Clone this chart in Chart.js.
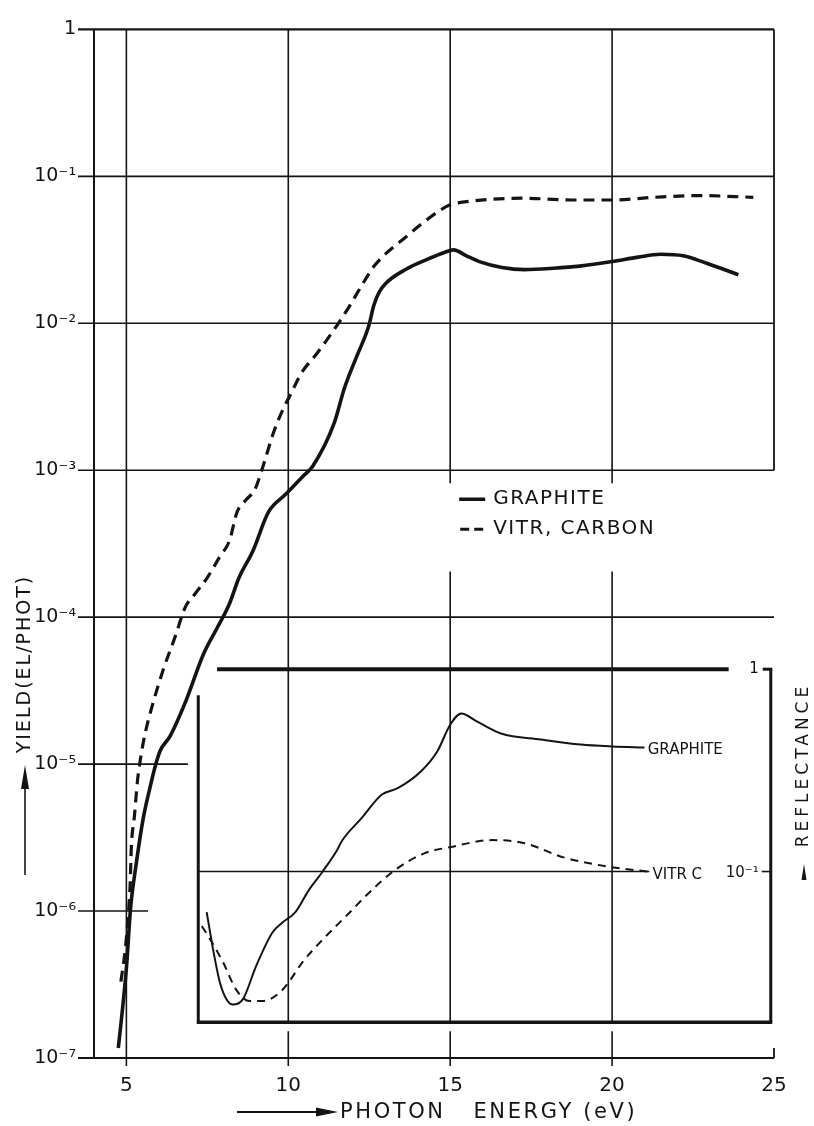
<!DOCTYPE html>
<html>
<head>
<meta charset="utf-8">
<script src="https://cdn.jsdelivr.net/npm/chart.js@4.4.0/dist/chart.umd.min.js"></script>
<style>
  html, body { margin: 0; padding: 0; background: #fff; }
</style>
</head>
<body>
<canvas id="yieldChart" width="814" height="1126"></canvas>
<script>
// Photoelectric yield (electrons / photon) vs photon energy (eV)
const graphiteEnergy = [4.75, 4.85, 5.0, 5.13, 5.31, 5.52, 5.74, 5.92, 6.04, 6.35, 6.81, 7.38, 7.81, 8.18, 8.48, 8.9, 9.39, 9.9, 10.5, 10.76,
  11.42, 11.73, 12.12, 12.48, 12.64, 12.8, 13.0, 13.65, 14.27, 14.8, 15.1, 15.5, 15.9, 16.6, 17.3, 18.2, 19.0, 20.0, 20.8, 21.5, 22.2, 22.9, 23.9];
const graphiteYield = [1.17e-7, 1.86e-7, 4.07e-7, 1.05e-6, 2.14e-6, 4.27e-6, 7.08e-6, 1.02e-5, 1.23e-5, 1.55e-5, 2.6e-5, 5.6e-5, 8.5e-5, 1.23e-4, 1.86e-4, 2.8e-4, 5.2e-4, 6.8e-4, 9.3e-4, 1.07e-3,
  2.1e-3, 3.6e-3, 6.0e-3, 9.5e-3, 1.32e-2, 1.62e-2, 1.86e-2, 2.34e-2, 2.71e-2, 3.02e-2, 3.16e-2, 2.88e-2, 2.63e-2, 2.4e-2, 2.32e-2, 2.37e-2, 2.45e-2, 2.63e-2, 2.82e-2, 2.95e-2, 2.88e-2, 2.57e-2, 2.14e-2];

const vitrEnergy = [4.83, 4.97, 5.06, 5.12, 5.15, 5.25, 5.34, 5.43, 5.58, 5.8, 6.14, 6.51, 6.82, 7.13, 7.5, 7.88, 8.18, 8.42, 8.7, 8.97,
  9.24, 9.55, 9.85, 10.06, 10.4, 10.9, 11.6, 11.9, 12.25, 12.65, 13.65, 14.7, 15.0, 15.7, 17.23, 18.76, 19.98, 21.3, 22.65, 24.36];
const vitrYield = [3.31e-7, 5.6e-7, 9.5e-7, 1.58e-6, 2.63e-6, 4.47e-6, 7.6e-6, 1.07e-5, 1.62e-5, 2.5e-5, 4.4e-5, 7.4e-5, 1.17e-4, 1.45e-4, 1.86e-4, 2.57e-4, 3.3e-4, 5.2e-4, 6.3e-4, 7.4e-4,
  1.1e-3, 1.82e-3, 2.63e-3, 3.24e-3, 4.57e-3, 6.3e-3, 1.04e-2, 1.32e-2, 1.78e-2, 2.45e-2, 3.9e-2, 5.9e-2, 6.4e-2, 6.8e-2, 7.1e-2, 6.9e-2, 6.9e-2, 7.2e-2, 7.4e-2, 7.2e-2];

// inset: reflectance
const graphiteReflEnergy = [7.48, 7.68, 7.89, 8.09, 8.29, 8.6, 9.0, 9.51, 9.82, 10.22, 10.63, 11.04, 11.5, 11.66, 12.27, 12.89, 13.38,
  14.1, 14.6, 15.0, 15.34, 15.84, 16.57, 17.8, 19.03, 20.0, 21.0];
const graphiteRefl = [0.063, 0.041, 0.0282, 0.0234, 0.022, 0.0234, 0.0339, 0.050, 0.056, 0.063, 0.0807, 0.0989, 0.127, 0.142, 0.184, 0.24, 0.258,
  0.313, 0.392, 0.531, 0.604, 0.55, 0.481, 0.449, 0.424, 0.415, 0.41];

const vitrReflEnergy = [7.33, 7.53, 7.99, 8.39, 8.8, 9.21, 9.72, 10.0, 10.43, 11.04, 11.85, 12.46, 13.27, 14.2, 15.0, 16.3, 17.3, 18.5, 20.0, 21.1];
const vitrRefl = [0.0537, 0.0479, 0.0355, 0.0261, 0.0229, 0.0229, 0.0251, 0.0282, 0.0355, 0.0457, 0.0617, 0.0776, 0.101, 0.123, 0.132, 0.143, 0.138, 0.1175, 0.105, 0.1];

const energyTicks = [5, 10, 15, 20, 25];
const yieldTicks = [1e-7, 1e-6, 1e-5, 1e-4, 1e-3, 1e-2, 1e-1, 1];
const yieldTickLabels = ['10\u207B\u2077', '10\u207B\u2076', '10\u207B\u2075', '10\u207B\u2074', '10\u207B\u00B3', '10\u207B\u00B2', '10\u207B\u00B9', '1'];
const reflTicks = [1, 0.1];
const reflTickLabels = ['1', '10\u207B\u00B9'];

const INK = '#141414';
const FONT = '"DejaVu Sans", sans-serif';

// inset frame (in data units)
const insetLeft = 7.22, insetRight = 24.9, insetFloor = 0.018;
const insetTopFrom = 7.8, insetTopTo = 23.6;

function toPoints(xs, ys) {
    return xs.map((x, i) => ({ x: x, y: ys[i] }));
}

function line(ctx, x1, y1, x2, y2, w) {
    ctx.beginPath();
    ctx.lineWidth = w;
    ctx.moveTo(x1, y1);
    ctx.lineTo(x2, y2);
    ctx.stroke();
}

const figurePlugin = {
    id: 'figure',
    beforeDraw(chart) {
        const ctx = chart.ctx;
        ctx.save();
        ctx.fillStyle = '#fff';
        ctx.fillRect(0, 0, chart.width, chart.height);
        ctx.restore();
    },
    beforeDatasetsDraw(chart) {
        const { ctx, scales: { x, y, yR } } = chart;
        const left = x.getPixelForValue(4), right = x.getPixelForValue(25);
        const top = y.getPixelForValue(1), bottom = y.getPixelForValue(1e-7);
        const inBottom = yR.getPixelForValue(insetFloor);
        ctx.save();
        ctx.strokeStyle = INK;
        ctx.lineCap = 'butt';

        // horizontal decade lines (some are only stubs in the original)
        yieldTicks.forEach(v => {
            let end = right;
            if (v === 1e-6) end = x.getPixelForValue(5.67);
            if (v === 1e-5) end = x.getPixelForValue(6.9);
            const w = (v === 1 || v === 1e-7) ? 2.2 : 1.6;
            line(ctx, left - 16, y.getPixelForValue(v), end, y.getPixelForValue(v), w);
        });

        // frame left / right
        line(ctx, left, top, left, bottom, 2);
        line(ctx, right, top, right, y.getPixelForValue(1e-3), 1.8);
        line(ctx, right, bottom - 10, right, bottom, 1.8);

        // vertical lines at 5, 10, 15, 20
        const gapTop = y.getPixelForValue(1e-3) + 13;
        const gapBottom = y.getPixelForValue(Math.pow(10, -3.69));
        line(ctx, x.getPixelForValue(5), top, x.getPixelForValue(5), bottom + 8, 1.6);
        [10, 15, 20].forEach(e => {
            const px = x.getPixelForValue(e);
            if (e === 10) {
                line(ctx, px, top, px, inBottom, 1.6);
            } else {
                line(ctx, px, top, px, gapTop, 1.6);
                line(ctx, px, gapBottom, px, inBottom, 1.6);
            }
            line(ctx, px, inBottom + 9, px, bottom + 8, 1.6);
        });

        // inset frame
        const iL = x.getPixelForValue(insetLeft), iR = x.getPixelForValue(insetRight);
        const r1 = yR.getPixelForValue(1), r01 = yR.getPixelForValue(0.1);
        line(ctx, x.getPixelForValue(insetTopFrom), r1, x.getPixelForValue(insetTopTo), r1, 4);
        line(ctx, iL, r1 + 26, iL, inBottom, 3);
        line(ctx, iL - 1.5, inBottom, iR + 1.5, inBottom, 3.5);
        line(ctx, iR, r1, iR, inBottom, 3);
        line(ctx, iR - 8, r1, iR + 1.5, r1, 3);
        line(ctx, iL, r01, x.getPixelForValue(21.15), r01, 1.6);
        line(ctx, iR - 9, r01, iR, r01, 1.6);
        ctx.restore();
    },
    afterDatasetsDraw(chart) {
        const { ctx, scales: { x, y, yR } } = chart;
        ctx.save();
        ctx.fillStyle = INK;
        ctx.strokeStyle = INK;
        ctx.textBaseline = 'middle';

        // legend
        const lx = x.getPixelForValue(15) + 9;
        const ly = y.getPixelForValue(1e-3) + 29;
        line(ctx, lx, ly, lx + 26, ly, 3.5);
        ctx.setLineDash([9, 5]);
        line(ctx, lx + 1, ly + 30, lx + 27, ly + 30, 3.2);
        ctx.setLineDash([]);
        ctx.font = '20px ' + FONT;
        ctx.letterSpacing = '1.5px';
        ctx.textAlign = 'left';
        ctx.fillText('GRAPHITE', lx + 34, ly);
        ctx.fillText('VITR, CARBON', lx + 34, ly + 30);

        // inset labels
        const iR = x.getPixelForValue(insetRight);
        ctx.font = '15px ' + FONT;
        ctx.letterSpacing = '0px';
        ctx.fillText('GRAPHITE', x.getPixelForValue(21.1), yR.getPixelForValue(0.405) + 2);
        ctx.fillText('VITR C', x.getPixelForValue(21.25), yR.getPixelForValue(0.1) + 4);
        ctx.textAlign = 'right';
        reflTicks.forEach((v, i) => {
            ctx.fillText(reflTickLabels[i], iR - 12, yR.getPixelForValue(v) + (i === 0 ? 0 : 2));
        });

        // x title with arrow
        const ty = 1112;
        line(ctx, 237, ty, 322, ty, 2);
        ctx.beginPath();
        ctx.moveTo(338, ty);
        ctx.lineTo(316, ty - 4.5);
        ctx.lineTo(316, ty + 4.5);
        ctx.closePath();
        ctx.fill();
        ctx.textAlign = 'left';
        ctx.font = '21px ' + FONT;
        ctx.letterSpacing = '2.6px';
        ctx.fillText('PHOTON   ENERGY (eV)', 340, ty + 1);

        // y title with arrow
        ctx.save();
        ctx.translate(25, 664);
        ctx.rotate(-Math.PI / 2);
        ctx.textAlign = 'center';
        ctx.font = '19px ' + FONT;
        ctx.letterSpacing = '2px';
        ctx.fillText('YIELD(EL/PHOT)', 0, 0);
        ctx.restore();
        line(ctx, 25, 875, 25, 785, 1.6);
        ctx.beginPath();
        ctx.moveTo(25, 765);
        ctx.lineTo(21, 789);
        ctx.lineTo(29, 789);
        ctx.closePath();
        ctx.fill();

        // reflectance title
        ctx.save();
        ctx.translate(804, 765);
        ctx.rotate(-Math.PI / 2);
        ctx.textAlign = 'center';
        ctx.font = '17px ' + FONT;
        ctx.letterSpacing = '4px';
        ctx.fillText('REFLECTANCE', 0, 0);
        ctx.restore();
        ctx.beginPath();
        ctx.moveTo(804, 864);
        ctx.lineTo(801.5, 880);
        ctx.lineTo(806.5, 880);
        ctx.closePath();
        ctx.fill();
        ctx.restore();
    }
};

const chartData = {
    datasets: [{
        label: 'GRAPHITE',
        data: toPoints(graphiteEnergy, graphiteYield),
        borderColor: INK,
        borderWidth: 3.6,
        pointRadius: 0,
        cubicInterpolationMode: 'monotone',
        yAxisID: 'y'
    }, {
        label: 'VITR, CARBON',
        data: toPoints(vitrEnergy, vitrYield),
        borderColor: INK,
        borderWidth: 3.2,
        borderDash: [11, 7],
        pointRadius: 0,
        cubicInterpolationMode: 'monotone',
        yAxisID: 'y'
    }, {
        label: 'GRAPHITE reflectance',
        data: toPoints(graphiteReflEnergy, graphiteRefl),
        borderColor: INK,
        borderWidth: 2,
        pointRadius: 0,
        cubicInterpolationMode: 'monotone',
        yAxisID: 'yR'
    }, {
        label: 'VITR C reflectance',
        data: toPoints(vitrReflEnergy, vitrRefl),
        borderColor: INK,
        borderWidth: 2,
        borderDash: [8, 6],
        pointRadius: 0,
        cubicInterpolationMode: 'monotone',
        yAxisID: 'yR'
    }]
};

const chartOptions = {
    responsive: false,
    animation: false,
    layout: { padding: { top: 21, right: 40, left: 0, bottom: 0 } },
    plugins: { legend: { display: false }, tooltip: { enabled: false } },
    scales: {
        x: {
            type: 'linear',
            min: 4,
            max: 25,
            afterBuildTicks: s => { s.ticks = energyTicks.map(v => ({ value: v })); },
            afterFit: s => { s.height = 68; },
            grid: { display: false, drawTicks: false },
            border: { display: false },
            ticks: { color: INK, font: { family: FONT, size: 20 }, padding: 16, maxRotation: 0 }
        },
        y: {
            type: 'logarithmic',
            min: 1e-7,
            max: 1,
            afterBuildTicks: s => { s.ticks = yieldTicks.map(v => ({ value: v })); },
            afterFit: s => { s.width = 94; },
            grid: { display: false, drawTicks: false },
            border: { display: false },
            ticks: {
                color: INK,
                font: { family: FONT, size: 19 },
                padding: 18,
                callback: (value, index) => yieldTickLabels[index]
            }
        },
        yR: {
            type: 'logarithmic',
            display: false,
            bounds: 'data',
            min: 0.01198,
            max: 1451
        }
    }
};

new Chart(document.getElementById('yieldChart').getContext('2d'), {
    type: 'line',
    data: chartData,
    options: chartOptions,
    plugins: [figurePlugin]
});
</script>
</body>
</html>
